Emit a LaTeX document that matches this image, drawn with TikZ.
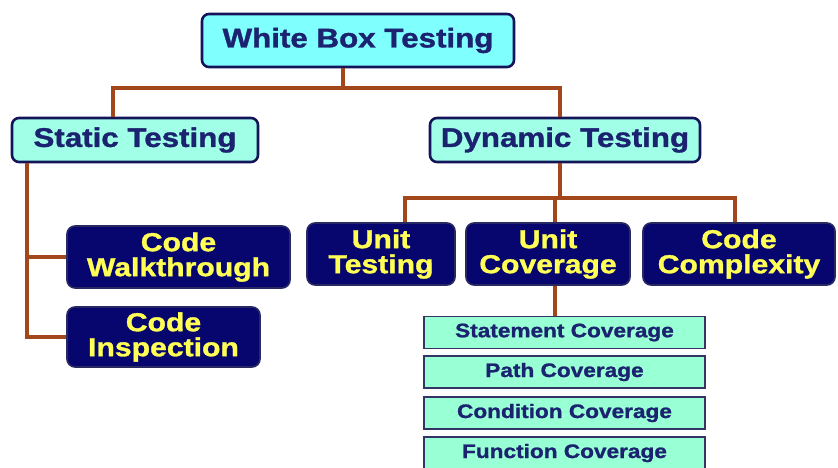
\documentclass[tikz,border=0pt]{standalone}
\usepackage{fontspec}
\newfontfamily\wbfont[FakeStretch=1.16,FakeBold=1.2]{Liberation Sans}
\usetikzlibrary{calc}
\definecolor{wbNavy}{HTML}{1B2370}
\definecolor{wbEdge}{HTML}{14145A}
\definecolor{wbDeep}{HTML}{06066E}
\definecolor{wbCyan}{HTML}{80FFFF}
\definecolor{wbMint}{HTML}{A0FFE6}
\definecolor{wbLeaf}{HTML}{99FFD4}
\definecolor{wbYellow}{HTML}{FFFF55}
\definecolor{wbBrown}{HTML}{A2461C}
\tikzset{
  wb canvas/.style={fill=white},
  wb link/.style={draw=wbBrown, line width=4pt},
  wb head/.style={
    draw=wbEdge, line width=2.6pt, fill=wbCyan, rounded corners=7pt,
    text=wbNavy, font=\wbfont\bfseries\fontsize{27}{25}\selectfont,
    inner sep=0pt
  },
  wb branch/.style={wb head, fill=wbMint},
  wb task/.style={
    draw=wbEdge!80!gray, line width=1.6pt, fill=wbDeep, rounded corners=8pt,
    text=wbYellow, align=center, inner sep=0pt,
    font=\wbfont\bfseries\fontsize{26}{25}\selectfont,
    minimum height=62pt
  },
  wb leaf/.style={
    draw=wbEdge!70!gray, line width=1.3pt, fill=wbLeaf,
    text=wbNavy, inner sep=0pt,
    font=\wbfont\bfseries\fontsize{19.5}{20}\selectfont,
    minimum width=281pt, minimum height=32pt
  }
}
\begin{document}
\begin{tikzpicture}[x=1pt,y=-1pt]
  \path[wb canvas, use as bounding box] (0,0) rectangle (838,468);
  \coordinate (topfork) at (343,88);
  \coordinate (sx) at (113,0);
  \coordinate (dx) at (560,0);
  \coordinate (sv) at (27,0);
  \coordinate (dynfork) at (560,198);
  \coordinate (ux) at (405,0);
  \coordinate (cx) at (555,0);
  \coordinate (kx) at (735,0);

  \node[wb head, minimum width=312pt, minimum height=53pt] (wbt) at (358,40.5) {White Box Testing};
  \node[wb branch, minimum width=246pt, minimum height=44pt] (static) at (135,140) {Static Testing};
  \node[wb branch, minimum width=270pt, minimum height=44pt] (dynamic) at (565,140) {Dynamic Testing};

  \node[wb task, minimum width=223pt] (walk) at (178.5,257) {Code\\Walkthrough};
  \node[wb task, minimum width=193pt, minimum height=60pt] (insp) at (163.5,337) {Code\\Inspection};

  \node[wb task, minimum width=148pt] (unittest) at (381,254) {Unit\\Testing};
  \node[wb task, minimum width=164pt] (unitcov) at (548,254) {Unit\\Coverage};
  \node[wb task, minimum width=192pt] (complex) at (739,254) {Code\\Complexity};

  \node[wb leaf] (stmt) at (564.5,332.5) {Statement Coverage};
  \node[wb leaf] (path) at (564.5,372) {Path Coverage};
  \node[wb leaf] (cond) at (564.5,413) {Condition Coverage};
  \node[wb leaf] (func) at (564.5,453) {Function Coverage};

  \draw[wb link] (wbt.south -| topfork) -- (topfork);
  \draw[wb link] (topfork) -| (static.north -| sx);
  \draw[wb link] (topfork) -| (dynamic.north -| dx);

  \draw[wb link] (static.south -| sv) |- (walk.west);
  \draw[wb link] (static.south -| sv) |- (insp.west);

  \draw[wb link] (dynamic.south -| dynfork) -- (dynfork);
  \draw[wb link] (dynfork) -| (unittest.north -| ux);
  \draw[wb link] (dynfork) -| (unitcov.north -| cx);
  \draw[wb link] (dynfork) -| (complex.north -| kx);
  \draw[wb link] (unitcov.south -| cx) -- (stmt.north -| cx);
\end{tikzpicture}
\end{document}
